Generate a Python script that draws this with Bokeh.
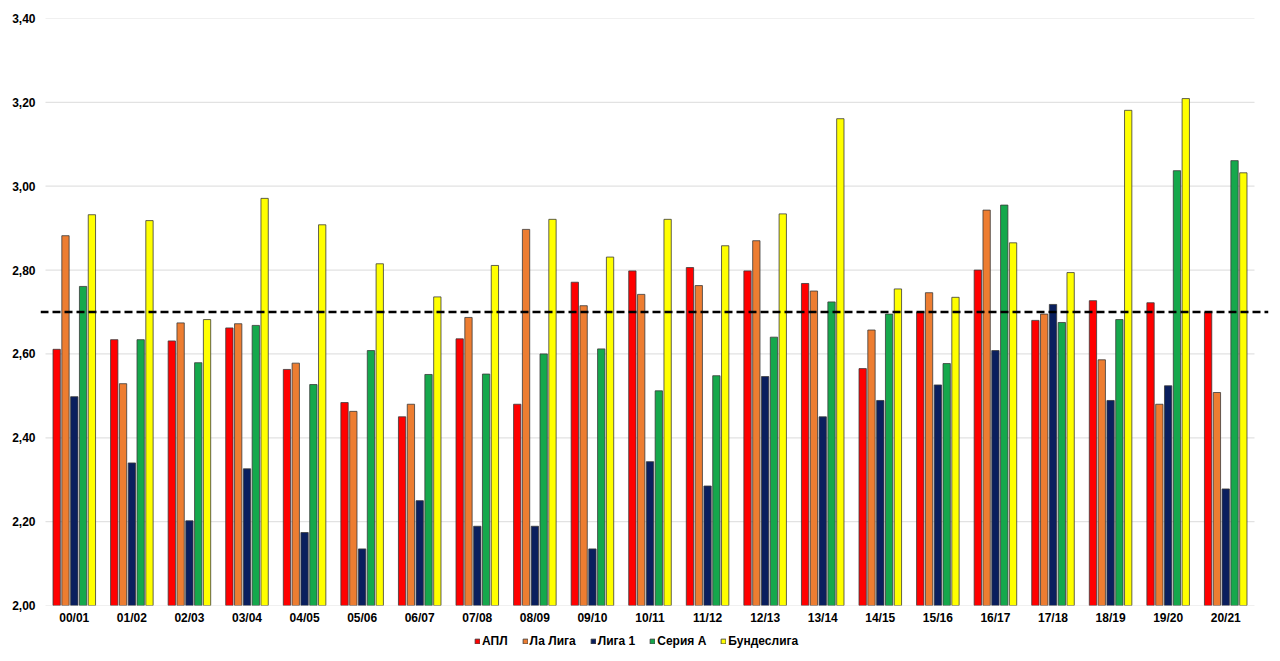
import numpy as np
from bokeh.plotting import figure
from bokeh.layouts import column
from bokeh.models import (ColumnDataSource, Range1d, FixedTicker, Span, Legend, LegendItem,
                          CustomJSTickFormatter)
from bokeh.transform import dodge
from bokeh.embed import file_html
from bokeh.resources import INLINE

seasons = ["00/01", "01/02", "02/03", "03/04", "04/05", "05/06", "06/07", "07/08", "08/09", "09/10",
           "10/11", "11/12", "12/13", "13/14", "14/15", "15/16", "16/17", "17/18", "18/19", "19/20", "20/21"]
apl = [2.611, 2.634, 2.631, 2.662, 2.563, 2.484, 2.450, 2.636, 2.480, 2.771, 2.798,
       2.806, 2.798, 2.768, 2.565, 2.699, 2.800, 2.680, 2.727, 2.722, 2.699]
laliga = [2.882, 2.529, 2.674, 2.672, 2.578, 2.463, 2.480, 2.687, 2.897, 2.715, 2.742,
          2.763, 2.870, 2.750, 2.657, 2.746, 2.943, 2.695, 2.586, 2.480, 2.508]
ligue1 = [2.498, 2.340, 2.202, 2.326, 2.174, 2.135, 2.250, 2.189, 2.189, 2.135, 2.343,
          2.285, 2.546, 2.450, 2.489, 2.526, 2.608, 2.718, 2.489, 2.524, 2.278]
seriea = [2.761, 2.634, 2.579, 2.668, 2.527, 2.608, 2.551, 2.552, 2.600, 2.612, 2.512,
          2.548, 2.640, 2.724, 2.695, 2.577, 2.955, 2.675, 2.682, 3.037, 3.061]
bundes = [2.932, 2.918, 2.682, 2.971, 2.908, 2.815, 2.736, 2.811, 2.921, 2.831, 2.921,
          2.858, 2.934, 3.161, 2.755, 2.735, 2.865, 2.794, 3.181, 3.209, 3.032]
series_names = ["АПЛ", "Ла Лига", "Лига 1", "Серия А", "Бундеслига"]
series_colors = ["#FF0000", "#ED7D31", "#0A1F5E", "#15A84C", "#FFFF00"]
average = 2.70
y_ticks = [2.0, 2.2, 2.4, 2.6, 2.8, 3.0, 3.2, 3.4]

FONT = "Liberation Sans"
OUTLINE = "#3A3A3A"
pos = np.arange(len(seasons)) + 0.5
src = ColumnDataSource(dict(pos=pos, season=seasons, s0=apl, s1=laliga, s2=ligue1, s3=seriea, s4=bundes))

p = figure(width=1272, height=628, output_backend="svg", toolbar_location=None,
           x_range=Range1d(-0.0868, 21.243), y_range=Range1d(2.0, 3.4),
           min_border_left=40, min_border_right=4, min_border_top=18, min_border_bottom=23)
p.outline_line_color = None
p.xgrid.visible = False
p.ygrid.visible = False

# horizontal gridlines across the category area
p.segment(x0=0, x1=len(seasons), y0=y_ticks, y1=y_ticks, line_color="#E2E2E2", line_width=1.2)

offsets = [-0.306, -0.153, 0.0, 0.153, 0.306]
for i in range(5):
    p.vbar(x=dodge("pos", offsets[i]), top="s%d" % i, bottom=2.0, width=0.127, source=src,
           fill_color=series_colors[i], line_color=OUTLINE, line_width=0.8)

p.add_layout(Span(location=average, dimension="width", line_color="black",
                  line_width=2.5, line_dash="8 4"))

p.xaxis.ticker = FixedTicker(ticks=list(pos))
p.xaxis.major_label_overrides = {float(x): s for x, s in zip(pos, seasons)}
p.yaxis.ticker = FixedTicker(ticks=y_ticks)
p.yaxis.formatter = CustomJSTickFormatter(code="return tick.toFixed(2).replace('.', ',');")
for ax in (p.xaxis, p.yaxis):
    ax.axis_line_color = None
    ax.major_tick_line_color = None
    ax.minor_tick_line_color = None
    ax.major_tick_out = 0
    ax.major_tick_in = 0
    ax.major_label_text_font = FONT
    ax.major_label_text_font_style = "bold"
    ax.major_label_text_font_size = "12px"
    ax.major_label_text_color = "black"
p.yaxis.major_label_standoff = 5
p.xaxis.major_label_standoff = 5

# legend strip below the chart (proxy glyphs sit outside the strip's visible range)
pl = figure(width=1272, height=30, output_backend="svg", toolbar_location=None,
            x_range=Range1d(0, 1), y_range=Range1d(0, 1),
            x_axis_location=None, y_axis_location=None,
            min_border=0)
pl.outline_line_color = None
pl.xgrid.visible = False
pl.ygrid.visible = False
items = []
for i in range(5):
    r = pl.vbar(x=[-10], top=[-10], bottom=-11, width=0.1, fill_color=series_colors[i],
                line_color=OUTLINE, line_width=0.8)
    items.append(LegendItem(label=series_names[i], renderers=[r]))
legend = Legend(items=items, orientation="horizontal", location=(434, 10),
                glyph_width=6, glyph_height=6, label_standoff=2, spacing=14,
                padding=0, margin=0, border_line_color=None, background_fill_alpha=0,
                label_text_font=FONT, label_text_font_style="bold", label_text_font_size="12px",
                label_text_color="black", label_height=14)
pl.add_layout(legend, "center")

layout = column(p, pl, spacing=0)
open("out.html", "w").write(file_html(layout, INLINE))
